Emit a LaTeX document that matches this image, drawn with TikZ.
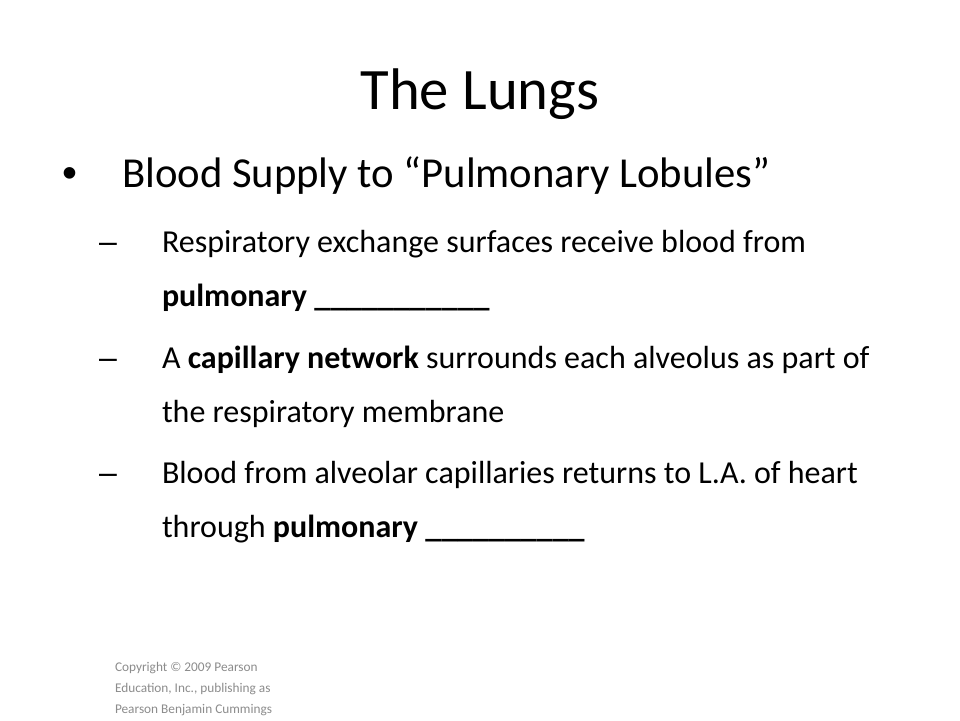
\documentclass[tikz,border=0pt]{standalone}
\usepackage{fontspec}
\setmainfont{Carlito}
\newfontfamily\arialfont{Liberation Sans}
\definecolor{copygray}{HTML}{8C8C8C}
\begin{document}
\begin{tikzpicture}[x=1pt,y=-1pt,
  every node/.style={inner sep=0pt,outer sep=0pt},
  titletext/.style={anchor=base,font=\fontsize{58.7}{60}\selectfont},
  lvlone/.style={anchor=base west,font=\fontsize{42.7}{44}\selectfont},
  lvltwo/.style={anchor=base west,font=\fontsize{32}{34}\selectfont},
  bulletmark/.style={anchor=base west,font=\arialfont\fontsize{42.7}{44}\selectfont},
  dashmark/.style={anchor=base west,font=\arialfont\fontsize{32}{34}\selectfont},
  copytext/.style={anchor=base west,text=copygray,font=\fontsize{13.3}{14}\selectfont}]
\useasboundingbox[fill=white] (0,0) rectangle (960,720);
\node[titletext] (title) at (480,109) {The Lungs};
\node[bulletmark] (b1) at (62,187) {•};
\node[lvlone] (t1) at (122,187) {Blood Supply to “Pulmonary Lobules”};
\node[dashmark] (d1) at (99,252) {–};
\node[lvltwo] (t2a) at (162,252) {Respiratory exchange surfaces receive blood from};
\node[lvltwo] (t2b) at (162,306) {\textbf{pulmonary \_\_\_\_\_\_\_\_\_\_\_}};
\node[dashmark] (d2) at (99,368) {–};
\node[lvltwo] (t3a) at (162,368) {A \textbf{capillary network} surrounds each alveolus as part of};
\node[lvltwo] (t3b) at (162,422) {the respiratory membrane};
\node[dashmark] (d3) at (99,483) {–};
\node[lvltwo] (t4a) at (162,483) {Blood from alveolar capillaries returns to L.A. of heart};
\node[lvltwo] (t4b) at (162,537) {through \textbf{pulmonary \_\_\_\_\_\_\_\_\_\_}};
\node[copytext] (c1) at (115,671) {Copyright © 2009 Pearson};
\node[copytext] (c2) at (115,692) {Education, Inc., publishing as};
\node[copytext] (c3) at (115,713) {Pearson Benjamin Cummings};
\end{tikzpicture}
\end{document}
